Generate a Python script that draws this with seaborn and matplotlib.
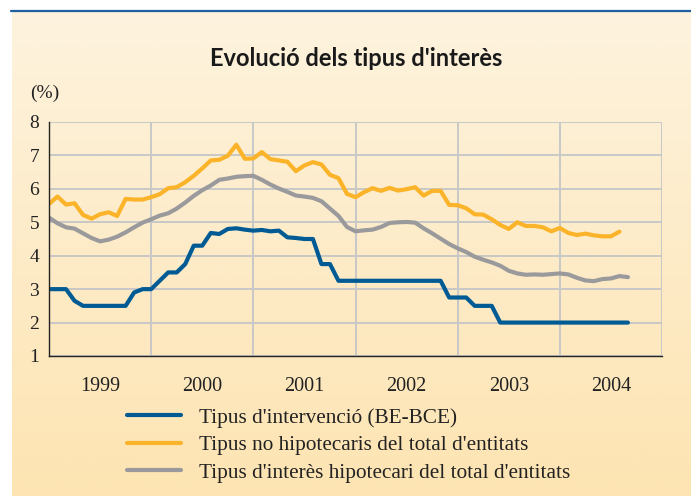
import numpy as np
import pandas as pd
import matplotlib
matplotlib.use("Agg")
import matplotlib.pyplot as plt
import seaborn as sns
from matplotlib.lines import Line2D

# ---- data (monthly, Jan 1999 = month 0) ----
blue_vals = [3.0, 3.0, 3.0, 2.65, 2.5, 2.5, 2.5, 2.5, 2.5, 2.5, 2.9, 3.0,
             3.0, 3.25, 3.5, 3.5, 3.75, 4.3, 4.3, 4.68, 4.65, 4.8, 4.82, 4.78,
             4.75, 4.77, 4.73, 4.75, 4.55, 4.53, 4.5, 4.5, 3.75, 3.75, 3.25, 3.25,
             3.25, 3.25, 3.25, 3.25, 3.25, 3.25, 3.25, 3.25, 3.25, 3.25, 3.25, 2.75,
             2.75, 2.75, 2.5, 2.5, 2.5, 2.0, 2.0, 2.0, 2.0, 2.0, 2.0, 2.0,
             2.0, 2.0, 2.0, 2.0, 2.0, 2.0, 2.0, 2.0, 2.0]
yellow_vals = [5.55, 5.77, 5.53, 5.57, 5.22, 5.11, 5.24, 5.3, 5.19, 5.7, 5.68, 5.68,
               5.75, 5.84, 6.02, 6.05, 6.2, 6.39, 6.61, 6.85, 6.87, 6.99, 7.32, 6.9,
               6.91, 7.1, 6.89, 6.85, 6.81, 6.53, 6.7, 6.8, 6.73, 6.42, 6.32, 5.85,
               5.75, 5.9, 6.02, 5.94, 6.03, 5.95, 5.99, 6.05, 5.8, 5.94, 5.94, 5.52,
               5.51, 5.42, 5.24, 5.23, 5.09, 4.92, 4.8, 5.0, 4.89, 4.89, 4.85, 4.73,
               4.83, 4.68, 4.62, 4.66, 4.61, 4.58, 4.58, 4.72]
gray_vals = [5.14, 4.97, 4.85, 4.81, 4.67, 4.53, 4.43, 4.48, 4.57, 4.7, 4.85, 4.99,
             5.09, 5.2, 5.27, 5.41, 5.59, 5.79, 5.96, 6.1, 6.27, 6.31, 6.36, 6.38,
             6.39, 6.27, 6.13, 6.01, 5.91, 5.8, 5.77, 5.73, 5.63, 5.41, 5.19, 4.86,
             4.73, 4.76, 4.78, 4.86, 4.98, 5.0, 5.01, 4.99, 4.82, 4.67, 4.51, 4.35,
             4.22, 4.11, 3.97, 3.88, 3.8, 3.7, 3.55, 3.47, 3.43, 3.44, 3.43, 3.45,
             3.47, 3.44, 3.34, 3.26, 3.24, 3.3, 3.32, 3.39, 3.36]
series_names = ["Tipus d'intervenció (BE-BCE)",
                "Tipus no hipotecaris del total d'entitats",
                "Tipus d'interès hipotecari del total d'entitats"]
year_labels = ["1999", "2000", "2001", "2002", "2003", "2004"]
y_ticks = [1, 2, 3, 4, 5, 6, 7, 8]
title = "Evolució dels tipus d'interès"
unit = "(%)"

colors = ["#005b94", "#fbb42a", "#9a9a9c"]

frames = []
for name, vals in zip(series_names, [blue_vals, yellow_vals, gray_vals]):
    frames.append(pd.DataFrame({"month": np.arange(len(vals)), "value": vals, "serie": name}))
df = pd.concat(frames, ignore_index=True)

sns.set_theme(style="white")
plt.rcParams['font.family'] = ['Liberation Serif', 'DejaVu Serif']

W, H = 691, 496
fig = plt.figure(figsize=(W / 100, H / 100), dpi=100)
fig.patch.set_facecolor("white")

# background gradient panel
bg = fig.add_axes([12 / W, 0, 1 - 12 / W, (H - 11) / H], zorder=0)
top_c = np.array([253, 243, 222]) / 255
bot_c = np.array([253, 228, 178]) / 255
t = np.linspace(0, 1, 256)[:, None]
grad = top_c[None, :] * (1 - t) + bot_c[None, :] * t
bg.imshow(grad[:, None, :].repeat(2, axis=1), aspect="auto", extent=[0, 1, 0, 1])
bg.set_axis_off()

# top blue rule
fig.add_artist(Line2D([11 / W, 1], [1 - 11 / H, 1 - 11 / H], color="#1f5f9f", lw=1.6,
                      transform=fig.transFigure))

ax = fig.add_axes([49 / W, 1 - 356 / H, (662 - 49) / W, (356 - 122) / H], zorder=2)
ax.patch.set_alpha(0)

sns.lineplot(data=df, x="month", y="value", hue="serie", palette=colors,
             hue_order=series_names, linewidth=3.0, ax=ax, legend=False, zorder=3)

ax.set_xlim(0, 72)
ax.set_ylim(1, 8)
ax.set_xticks(np.arange(0, 73, 12))
ax.set_xticklabels([])
ax.set_xticks(np.arange(6, 72, 12), minor=True)
ax.set_xticklabels(year_labels, minor=True, fontsize=14.5, color="#222222")
ax.tick_params(axis="x", which="both", length=0)
ax.tick_params(axis="x", which="minor", pad=15)
ax.set_yticks(y_ticks)
ax.set_yticklabels([str(v) for v in y_ticks], fontsize=14, color="#222222")
ax.set_yticks(np.arange(1, 8.01, 0.2), minor=True)
ax.tick_params(axis="y", which="major", length=3, width=0.8, direction="out", pad=4, color="#222222")
ax.tick_params(axis="y", which="minor", length=2, width=0.6, direction="out", color="#222222")
ax.set_xlabel("")
ax.set_ylabel("")
ax.grid(True, which="major", color="#c8c8c8", linewidth=1.4, zorder=1)
for s in ["top", "right"]:
    ax.spines[s].set_visible(False)
for s in ["left", "bottom"]:
    ax.spines[s].set_color("#222222")
    ax.spines[s].set_linewidth(1.0)
    ax.spines[s].set_zorder(4)

# title and unit
fig.text(356 / W, 1 - 59 / H, title, ha="center", va="center", fontsize=17,
         fontweight="bold", family=["Lato", "DejaVu Sans"], color="#1a1a1a")
fig.text(30 / W, 1 - 93 / H, unit, ha="left", va="center", fontsize=14, color="#222222")

# legend
handles = [Line2D([0], [0], color=c, lw=3) for c in colors]
leg = fig.legend(handles, series_names, loc="upper left",
                 bbox_to_anchor=(127 / W, 1 - 408 / H), frameon=False,
                 fontsize=15.3, handlelength=2.55, handletextpad=0.85,
                 labelspacing=0.36, borderpad=0, borderaxespad=0)
for txt in leg.get_texts():
    txt.set_color("#222222")

fig.savefig("out.png", dpi=100)
